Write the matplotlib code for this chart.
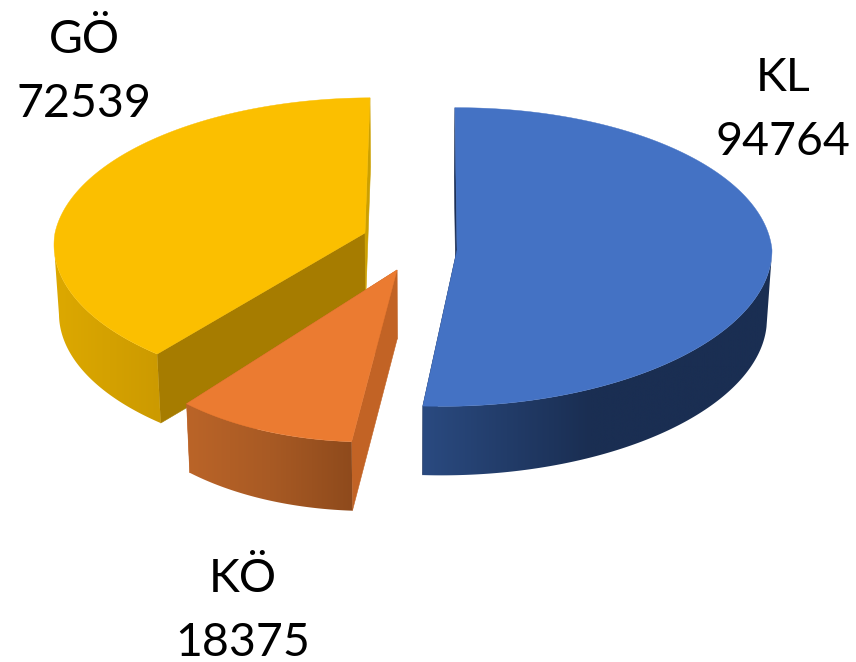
import numpy as np
import matplotlib.pyplot as plt
from matplotlib.colors import LinearSegmentedColormap
from matplotlib.patches import Polygon

names = ['KL', 'KÖ', 'GÖ']
values = [94764, 18375, 72539]

# geometry of every exploded slice, in pixels of the picture
apex_x = [457, 397, 365]
apex_y = [250, 270, 233]
rad_x = [315, 300, 310]
rad_y = [149, 172, 146]
persp = [0.047, 0.0, 0.08]
shear_back = [0, 0, 7]
shear_front = [15, 28, 0]

top_col = ['#4472C4', '#EB7B31', '#FBBF00']
begin_col = ['#1C2F55', '#C26325', '#A67C00']
end_col = ['#1C2F55', '#C26325', '#CCA000']
rim_x = [[422, 590, 772], [189, 270, 353], [58, 160, 366]]
rim_col = [['#2A4A80', '#1A2E52', '#1A2E52'],
           ['#BA6428', '#A85A24', '#8E4A1C'],
           ['#DCA800', '#CC9A00', '#CC9A00']]

label_x = [783, 243, 84]
label_y = [110, 611, 72]

depth = 69
van_x = 410
shrink = 0.014
start = -0.4


def top_pt(i, theta):
    u = np.sin(np.radians(theta))
    v = np.cos(np.radians(theta))
    w = 1 + persp[i] * v
    x = apex_x[i] + rad_x[i] * u / w + shear_back[i] * np.maximum(v, 0) + shear_front[i] * np.minimum(v, 0)
    y = apex_y[i] - rad_y[i] * v / w
    return x, y


def low_pt(x, y):
    return x + (van_x - x) * shrink, y + depth


fig = plt.figure(figsize=(8.56, 6.62), dpi=100)
ax = fig.add_axes([0, 0, 1, 1])

fracs = np.array(values) / sum(values) * 360
ends = start + np.cumsum(fracs)
begins = ends - fracs

# back slices first, so that the nearer ones cover them
for i in [2, 1, 0]:
    th = np.linspace(begins[i], ends[i], 361)
    x, y = top_pt(i, th)
    lx, ly = low_pt(x, y)
    ax0, ay0 = apex_x[i], apex_y[i]
    bx0, by0 = low_pt(ax0, ay0)

    # flat faces of the cuts
    ax.add_patch(Polygon([(x[0], y[0]), (lx[0], ly[0]), (bx0, by0), (ax0, ay0)],
                         fc=begin_col[i], ec=begin_col[i], lw=0.4))
    ax.add_patch(Polygon([(x[-1], y[-1]), (lx[-1], ly[-1]), (bx0, by0), (ax0, ay0)],
                         fc=end_col[i], ec=end_col[i], lw=0.4))

    # outer rim, shaded from left to right, only the part facing us
    front = np.cos(np.radians(th)) < -persp[i]
    fx, fy, flx, fly = x[front], y[front], lx[front], ly[front]
    rim = Polygon(np.r_[np.c_[fx, fy], np.c_[flx, fly][::-1]], fc='none', ec='none')
    ax.add_patch(rim)
    x0, x1 = min(fx.min(), flx.min()) - 1, max(fx.max(), flx.max()) + 1
    y0, y1 = min(fy.min(), fly.min()) - 1, max(fy.max(), fly.max()) + 1
    span = rim_x[i][-1] - rim_x[i][0]
    pos = (np.array(rim_x[i]) - rim_x[i][0]) / span
    cmap = LinearSegmentedColormap.from_list('rim', list(zip(pos, rim_col[i])))
    grad = np.clip((np.linspace(x0, x1, 600) - rim_x[i][0]) / span, 0, 1)
    im = ax.imshow(grad[None, :], extent=(x0, x1, y1, y0), cmap=cmap, vmin=0, vmax=1, aspect='auto', zorder=1)
    im.set_clip_path(rim)

    ax.add_patch(Polygon(np.r_[[[ax0, ay0]], np.c_[x, y]], fc=top_col[i], ec=top_col[i], lw=0.3))

for i in range(3):
    ax.text(label_x[i], label_y[i], f'{names[i]}\n{values[i]}', ha='center', va='center',
            family='Lato', fontsize=33.5, color='black', linespacing=1.62)

ax.set_xlim(0, 856)
ax.set_ylim(662, 0)
ax.axis('off')

fig.savefig('out.png', dpi=100)
